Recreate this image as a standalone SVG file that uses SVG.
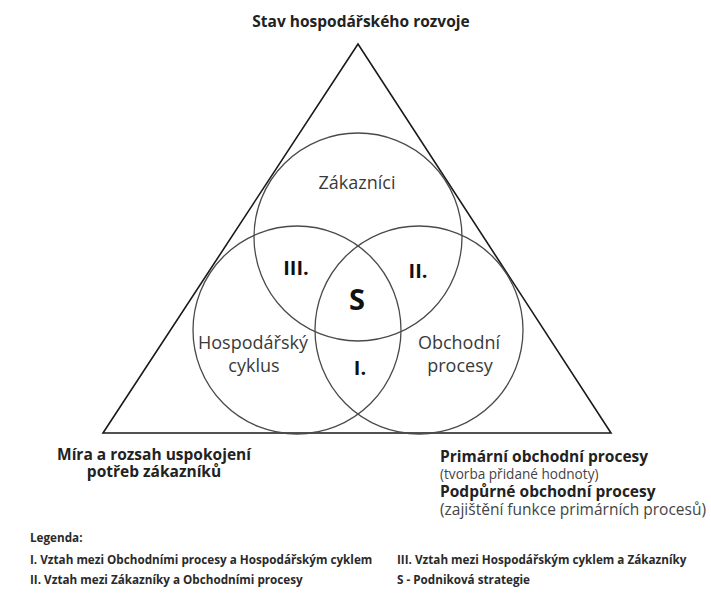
<svg xmlns="http://www.w3.org/2000/svg" width="711" height="607" viewBox="0 0 711 607">
  <style>
    text { font-family: "Open Sans", "Noto Sans", "Liberation Sans", sans-serif; fill: #222; }
    .title { font-size: 15.5px; font-weight: 700; text-anchor: middle; }
    .circle { fill: none; stroke: #4a4a4a; stroke-width: 1.3; }
    .tri { fill: none; stroke: #1a1a1a; stroke-width: 1.6; stroke-linejoin: miter; }
    .set { font-size: 18px; fill: #3a3a3a; text-anchor: middle; }
    .zone { font-size: 20px; font-weight: 700; fill: #111; text-anchor: middle; }
    .big { font-size: 29px; font-weight: 700; fill: #111; text-anchor: middle; }
    .side { font-size: 15.5px; font-weight: 700; }
    .note { fill: #444; }
    .legend { font-size: 11.7px; font-weight: 700; fill: #2a2a2a; }
  </style>

  <text class="title" x="361" y="27">Stav hospodářského rozvoje</text>

  <!-- outer frame -->
  <g id="frame">
    <polygon class="tri" points="358,44 103,433 611,433"/>
  </g>

  <g id="zakaznici">
    <circle class="circle" cx="358" cy="237" r="104"/>
    <text class="set" x="357" y="189">Zákazníci</text>
  </g>
  <g id="hospodarsky-cyklus">
    <circle class="circle" cx="297" cy="330" r="104"/>
    <text class="set" x="253" y="349">Hospodářský</text>
    <text class="set" x="254" y="372">cyklus</text>
  </g>
  <g id="obchodni-procesy">
    <circle class="circle" cx="419" cy="330" r="104"/>
    <text class="set" x="459" y="349">Obchodní</text>
    <text class="set" x="460" y="372">procesy</text>
  </g>

  <!-- overlap zones -->
  <g id="zones">
    <text class="zone" x="296" y="275">III.</text>
    <text class="zone" x="418" y="278">II.</text>
    <text class="zone" x="360" y="375">I.</text>
    <text class="big" x="357" y="310">S</text>
  </g>

  <!-- corner captions -->
  <g id="caption-left">
    <text class="side" x="154" y="460" text-anchor="middle">Míra a rozsah uspokojení</text>
    <text class="side" x="154" y="477" text-anchor="middle">potřeb zákazníků</text>
  </g>
  <g id="caption-right">
    <text class="side" x="440" y="462">Primární obchodní procesy</text>
    <text class="note" x="440" y="479" font-size="13.6">(tvorba přidané hodnoty)</text>
    <text class="side" x="440" y="497">Podpůrné obchodní procesy</text>
    <text class="note" x="440" y="515" font-size="15.5">(zajištění funkce primárních procesů)</text>
  </g>

  <g id="legend">
    <text class="legend" x="30" y="542">Legenda:</text>
    <text class="legend" x="30" y="564">I. Vztah mezi Obchodními procesy a Hospodářským cyklem</text>
    <text class="legend" x="30" y="584">II. Vztah mezi Zákazníky a Obchodními procesy</text>
    <text class="legend" x="397" y="564">III. Vztah mezi Hospodářským cyklem a Zákazníky</text>
    <text class="legend" x="397" y="584">S - Podniková strategie</text>
  </g>
</svg>
